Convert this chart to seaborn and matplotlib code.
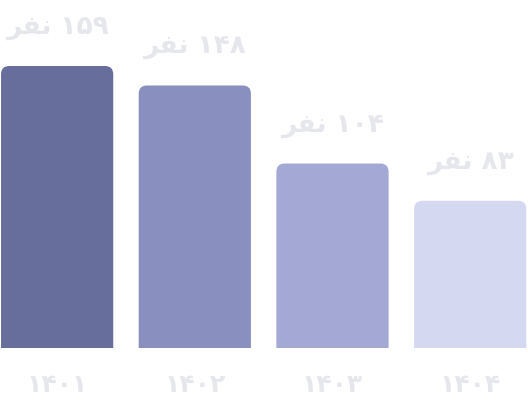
import matplotlib.pyplot as plt
import seaborn as sns
import pandas as pd
from matplotlib.patches import FancyBboxPatch

# داده‌ها
years = ["۱۴۰۱", "۱۴۰۲", "۱۴۰۳", "۱۴۰۴"]
counts = [159, 148, 104, 83]
digits = ["۱۵۹", "۱۴۸", "۱۰۴", "۸۳"]
colors = ["#676e9b", "#8990bf", "#a3a8d4", "#d4d8f1"]

# "نفر" in presentation forms, visual order (matplotlib draws left to right)
nafar = "\uFEAE\uFED4\uFEE7"

df = pd.DataFrame({"year": years, "count": counts})

sns.set_style("white")
plt.rcParams["font.family"] = ["DejaVu Sans"]

fig = plt.figure(figsize=(5.28, 4.15), dpi=100)
ax = fig.add_axes([0, 67 / 415, 1, 348 / 415])

sns.barplot(
    data=df, x="year", y="count", hue="year", palette=colors,
    width=0.815, saturation=1, legend=False, ax=ax,
)

ax.set_xlim(-0.415, 3.42)
ax.set_ylim(0, 196.2)

# rounded tops: swap seaborn rectangles for rounded boxes extending below 0
r = 0.06
aspect = (196.2 / 348) / (3.835 / 528)
for p in list(ax.patches):
    x0, w, h = p.get_x(), p.get_width(), p.get_height()
    fc = p.get_facecolor()
    p.set_visible(False)
    box = FancyBboxPatch(
        (x0, -10), w, h + 10,
        boxstyle=f"round,pad=0,rounding_size={r}",
        mutation_aspect=aspect, facecolor=fc, edgecolor="none",
    )
    ax.add_patch(box)

txt_color = "#e6e7ec"
for i, (c, d) in enumerate(zip(counts, digits)):
    ax.text(
        i, c + 22, f"{nafar} {d}", ha="center", va="center",
        fontsize=19, fontweight="bold", color=txt_color,
    )
    ax.text(
        i, -21, years[i], ha="center", va="center",
        fontsize=18, fontweight="bold", color=txt_color, clip_on=False,
    )

ax.set_xlabel("")
ax.set_ylabel("")
ax.set_xticks([])
ax.set_yticks([])
sns.despine(ax=ax, left=True, bottom=True)

fig.savefig("out.png", dpi=100)
